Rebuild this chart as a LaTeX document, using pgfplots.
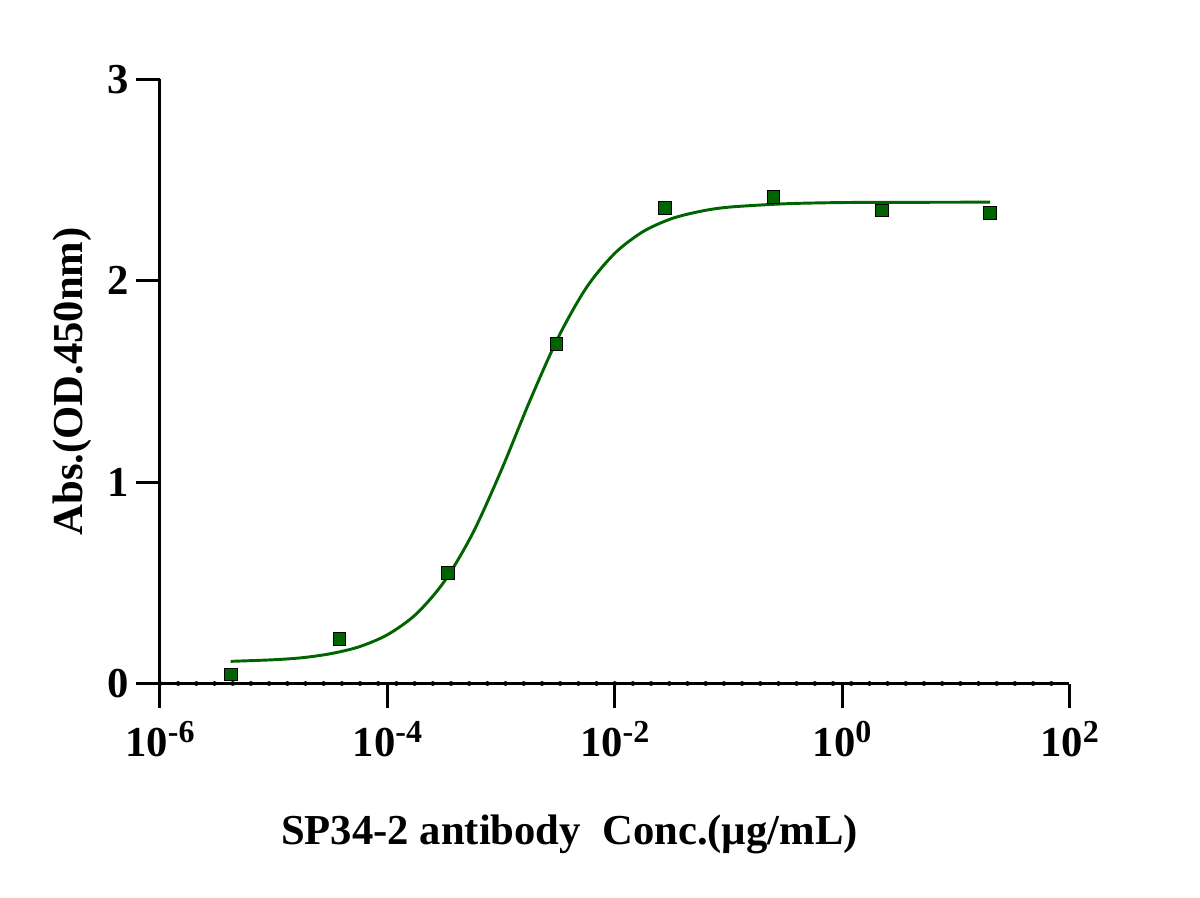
\documentclass[border=0pt]{standalone}
\usepackage{fontspec}
\setmainfont{Liberation Serif}
\usepackage{pgfplots}
\pgfplotsset{compat=1.18}
\definecolor{dg}{RGB}{0,100,0}
\newcommand{\tl}[1]{10\raisebox{10.5pt}{\fontsize{24}{24}\selectfont #1}}
\newcommand{\bigfont}{\bfseries\fontsize{32}{38}\selectfont}
\begin{document}
\begin{tikzpicture}
\begin{axis}[
  at={(0,0)}, anchor=south west,
  scale only axis, width=682.125pt, height=453.15pt,
  xmode=log, log basis x=10,
  xmin=1e-6, xmax=100, ymin=0, ymax=3,
  axis lines*=left,
  axis line style={line width=2.25pt, black},
  every tick/.style={line width=2.25pt, black},
  major tick length=18pt,
  tick align=outside,
  xminorticks=false, yminorticks=false,
  xtick={1e-6,1e-4,1e-2,1,100},
  xticklabels={\tl{-6},\tl{-4},\tl{-2},\tl{0},\tl{2}},
  ytick={0,1,2,3},
  yticklabels={0,1,2,3},
  ticklabel style={font=\bigfont, inner sep=0pt},
  xticklabel style={anchor=base, yshift=-36.9pt},
  yticklabel style={anchor=east, xshift=-5.25pt},
  xlabel={SP34-2 antibody\ \ Conc.(µg/mL)},
  ylabel={Abs.(OD.450nm)},
  every axis x label/.style={at={(axis description cs:0.4503,0)}, anchor=base, yshift=-121.1pt, font=\bigfont},
  every axis y label/.style={at={(axis description cs:0,0.5)}, xshift=-57.75pt, rotate=90, anchor=base, font=\bigfont},
  clip=false,
]
\addplot[dg, line width=2.2pt, smooth, no marks] coordinates {
(4.181e-6,0.110) (1e-5,0.118) (1.778e-5,0.128) (3.162e-5,0.148) (5.623e-5,0.182)
(1e-4,0.242) (1.778e-4,0.343) (3.162e-4,0.506) (5.623e-4,0.745)
(1e-3,1.056) (1.778e-3,1.399) (3.162e-3,1.715) (5.623e-3,1.965)
(1e-2,2.136) (1.778e-2,2.244) (3.162e-2,2.308) (5.623e-2,2.344)
(0.1,2.365) (0.3162,2.382) (1,2.388) (3.162,2.389) (20,2.390)
};
\addplot[only marks, mark=square*, mark size=4.7pt, mark options={fill=dg, draw=none}] coordinates {
(4.181e-6,0.047) (3.763e-5,0.222) (3.387e-4,0.550) (3.048e-3,1.686)
(2.743e-2,2.363) (0.2469,2.417) (2.222,2.350) (20,2.337)
};
\draw[black, line width=3.6pt, line cap=round, dash pattern=on 0pt off 13.6425pt] (rel axis cs:0,0) -- (rel axis cs:1,0);
\end{axis}
\pgfresetboundingbox
\path (-120pt,-160.125pt) rectangle (780pt,512.625pt);
\end{tikzpicture}
\end{document}
